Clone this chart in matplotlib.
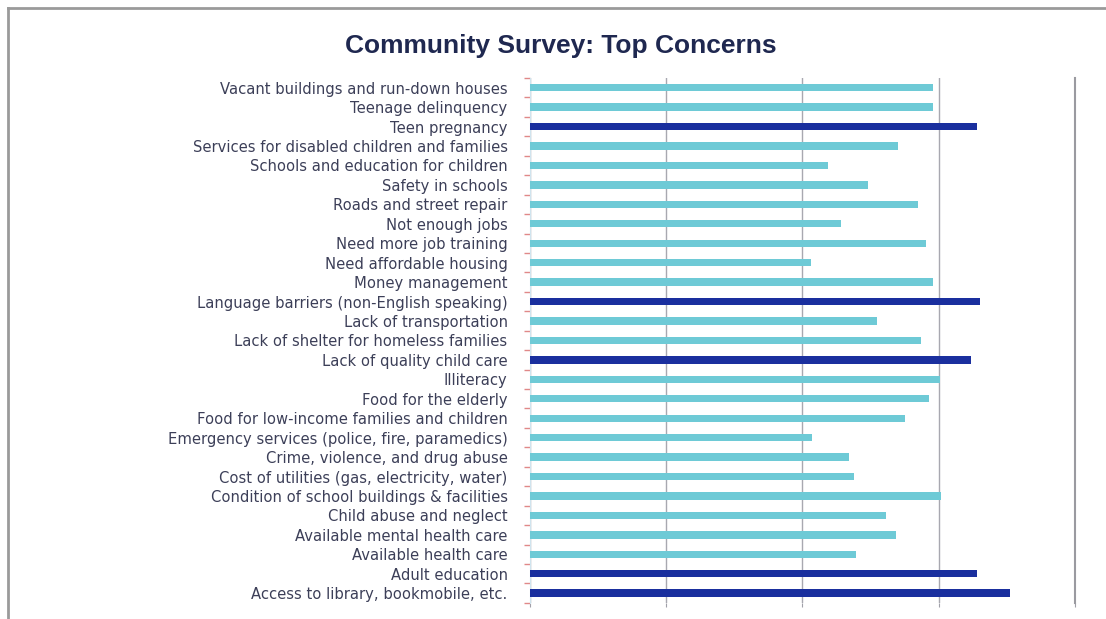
import numpy as np
import matplotlib.pyplot as plt
from matplotlib.lines import Line2D

# Survey items (top to bottom) and their average scores
concerns = [
    "Vacant buildings and run-down houses",
    "Teenage delinquency",
    "Teen pregnancy",
    "Services for disabled children and families",
    "Schools and education for children",
    "Safety in schools",
    "Roads and street repair",
    "Not enough jobs",
    "Need more job training",
    "Need affordable housing",
    "Money management",
    "Language barriers (non-English speaking)",
    "Lack of transportation",
    "Lack of shelter for homeless families",
    "Lack of quality child care",
    "Illiteracy",
    "Food for the elderly",
    "Food for low-income families and children",
    "Emergency services (police, fire, paramedics)",
    "Crime, violence, and drug abuse",
    "Cost of utilities (gas, electricity, water)",
    "Condition of school buildings & facilities",
    "Child abuse and neglect",
    "Available mental health care",
    "Available health care",
    "Adult education",
    "Access to library, bookmobile, etc.",
]
scores = [2.96, 2.96, 3.28, 2.70, 2.19, 2.48, 2.85, 2.28, 2.91, 2.06,
          2.96, 3.30, 2.55, 2.87, 3.24, 3.01, 2.93, 2.75, 2.07, 2.34,
          2.38, 3.02, 2.61, 2.69, 2.39, 3.28, 3.52]

# Items singled out as the top concerns
top_concerns = [
    "Teen pregnancy",
    "Language barriers (non-English speaking)",
    "Lack of quality child care",
    "Adult education",
    "Access to library, bookmobile, etc.",
]

plt.rcParams['font.family'] = ['Liberation Sans', 'DejaVu Sans']

fig = plt.figure(figsize=(11.06, 6.19), dpi=100)
ax = fig.add_axes([0.479, 0.026, 0.493, 0.848])

y = np.arange(len(concerns))
colors = ['#1a2f9e' if c in top_concerns else '#6ecad6' for c in concerns]
ax.barh(y, scores, height=0.38, color=colors, zorder=3)

ax.set_xlim(0, 4)
ax.set_ylim(len(concerns) - 0.5, -0.5)

# vertical grid
ax.set_xticks([0, 1, 2, 3, 4])
ax.set_xticklabels([])
ax.xaxis.grid(True, color='#a8a8b0', linewidth=1, zorder=0)
ax.tick_params(axis='x', length=3, color='#a0a0a8')

# category labels, with small red tick marks between the categories
ax.set_yticks(y)
ax.set_yticklabels(concerns, fontsize=10.6, color='#3c3f58', family='DejaVu Sans')
ax.tick_params(axis='y', length=0, pad=16)
ax.set_yticks(np.arange(-0.5, len(concerns)), minor=True)
ax.tick_params(axis='y', which='minor', length=4, color='#e08888', width=1)

for side in ['top', 'bottom']:
    ax.spines[side].set_visible(False)
ax.spines['left'].set_color('#d0e4ee')
ax.spines['right'].set_color('#9a9aa0')
ax.spines['right'].set_linewidth(1.5)

fig.text(0.507, 0.925, "Community Survey: Top Concerns", ha='center', va='center',
         fontsize=19, fontweight='bold', color='#1f2850')

# chart frame (top and left edges)
fig.add_artist(Line2D([0.007, 1.0], [0.987, 0.987], transform=fig.transFigure,
                      color='#9a9a9a', linewidth=2))
fig.add_artist(Line2D([0.007, 0.007], [0.0, 0.987], transform=fig.transFigure,
                      color='#9a9a9a', linewidth=2))

fig.savefig('out.png', dpi=100)
